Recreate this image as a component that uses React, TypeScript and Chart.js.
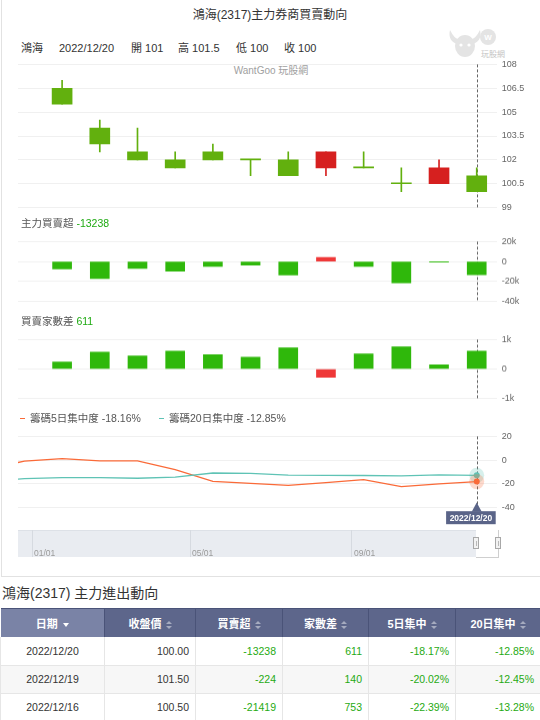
import React, { useEffect, useRef } from 'react';
import { Chart, registerables } from 'chart.js';

Chart.register(...registerables);

const FONT = '"Liberation Sans", "Noto Sans CJK TC", sans-serif';

// ---------- data ----------
const DATES = ['2022/12/05', '2022/12/06', '2022/12/07', '2022/12/08', '2022/12/09', '2022/12/12', '2022/12/13', '2022/12/14', '2022/12/15', '2022/12/16', '2022/12/19', '2022/12/20'];
const OPEN = [106.5, 104, 102.5, 102, 102.5, 102, 102, 101.5, 101.5, 100.5, 100.5, 101];
const HIGH = [107, 104.5, 104, 102.5, 103, 102, 102.5, 102.5, 102.5, 101.5, 102, 101.5];
const LOW = [105.5, 102.5, 102, 101.5, 102, 101, 101, 101, 101.5, 100, 100.5, 100];
const CLOSE = [105.5, 103, 102, 101.5, 102, 102, 101, 102.5, 101.5, 100.5, 101.5, 100];

const NET_BUY = [-7500, -16900, -7000, -9600, -4900, -3500, -13400, 4200, -4900, -21419, -224, -13238];
const BROKER_DIFF = [240, 570, 440, 610, 490, 400, 720, -280, 510, 753, 140, 611];

const CONC_DATES = ['2022/12/01', '2022/12/02', ...DATES];
const CONC5 = [-8, -0.8, 1.3, -0.7, -0.7, -8, -17.9, -19.6, -21.4, -19, -16.5, -22.39, -20.02, -18.16];
const CONC20 = [-18.4, -15.6, -14.8, -14.8, -15.3, -14.3, -10.9, -11.2, -12.7, -12.9, -13.0, -13.28, -12.45, -12.85];

const PRICE_TICKS = [99, 100.5, 102, 103.5, 105, 106.5, 108];
const PRICE_TICK_LABELS = ['99', '100.5', '102', '103.5', '105', '106.5', '108'];
const NET_TICKS = [-40000, -20000, 0, 20000];
const NET_TICK_LABELS = ['-40k', '-20k', '0', '20k'];
const DIFF_TICKS = [-1000, 0, 1000];
const DIFF_TICK_LABELS = ['-1k', '0', '1k'];
const CONC_TICKS = [-40, -20, 0, 20];
const CONC_TICK_LABELS = ['-40', '-20', '0', '20'];

const NAV_LABELS = ['01/01', '05/01', '09/01'];

const TABLE_HEADERS = ['日期', '收盤價', '買賣超', '家數差', '5日集中', '20日集中'];
const TABLE_DATES = ['2022/12/20', '2022/12/19', '2022/12/16'];
const TABLE_CLOSE = ['100.00', '101.50', '100.50'];
const TABLE_NET = ['-13238', '-224', '-21419'];
const TABLE_DIFF = ['611', '140', '753'];
const TABLE_C5 = ['-18.17%', '-20.02%', '-22.39%'];
const TABLE_C20 = ['-12.85%', '-12.45%', '-13.28%'];

// ---------- styles ----------
const UP_CANDLE = '#d6201f';
const DOWN_CANDLE = '#62b00e';
const RED_BAR = '#ef3838';
const GREEN_BAR = '#2fb80b';
const ORANGE = '#fa6a38';
const TEAL = '#5fc3b5';
const GREEN_TEXT = '#1faa12';

const LAST = DATES.length - 1;
const X_SCALE: any = { type: 'linear', min: -1.17, max: 11.53, display: false, offset: false };
const PAD = { left: 18, right: 0, top: 6, bottom: 6 };

function yAxis(ticks: number[], labels: string[]) {
  return {
    position: 'right',
    min: ticks[0],
    max: ticks[ticks.length - 1],
    afterBuildTicks: (s: any) => {
      s.ticks = ticks.map((v) => ({ value: v }));
    },
    afterFit: (s: any) => {
      s.width = 43.3;
    },
    grid: { color: '#f0f0f0', drawTicks: false, lineWidth: 1 },
    border: { display: false },
    ticks: {
      padding: 5,
      color: '#666',
      font: { size: 9, family: FONT },
      callback: (_v: any, i: number) => labels[i],
    },
  };
}

const crosshair = {
  id: 'crosshair',
  beforeDatasetsDraw(chart: any) {
    const x = chart.scales.x.getPixelForValue(LAST);
    const { top, bottom } = chart.chartArea;
    const ctx = chart.ctx;
    ctx.save();
    ctx.strokeStyle = '#666';
    ctx.lineWidth = 1;
    ctx.setLineDash([3, 2]);
    ctx.beginPath();
    ctx.moveTo(Math.round(x) + 0.5, top);
    ctx.lineTo(Math.round(x) + 0.5, bottom);
    ctx.stroke();
    ctx.restore();
  },
};

const hoverMarks = {
  id: 'hoverMarks',
  afterDatasetsDraw(chart: any) {
    const ctx = chart.ctx;
    chart.data.datasets.forEach((ds: any, di: number) => {
      const meta = chart.getDatasetMeta(di);
      const el = meta.data[meta.data.length - 1];
      if (!el) return;
      ctx.save();
      ctx.globalAlpha = 0.25;
      ctx.fillStyle = ds.borderColor;
      ctx.beginPath();
      ctx.arc(el.x, el.y, 7.5, 0, Math.PI * 2);
      ctx.fill();
      ctx.globalAlpha = 1;
      ctx.beginPath();
      ctx.arc(el.x, el.y, 3, 0, Math.PI * 2);
      ctx.fill();
      ctx.restore();
    });
  },
  afterDraw(chart: any) {
    const x = chart.scales.x.getPixelForValue(LAST);
    const { bottom, right } = chart.chartArea;
    const ctx = chart.ctx;
    const w = 49.6;
    const h = 13;
    const cx = Math.min(x, right - w / 2 - 1);
    const boxTop = bottom + 3.7;
    ctx.save();
    ctx.fillStyle = '#5a6488';
    ctx.beginPath();
    ctx.moveTo(x, bottom - 5);
    ctx.lineTo(x + 5, boxTop + 0.5);
    ctx.lineTo(x - 5, boxTop + 0.5);
    ctx.closePath();
    ctx.fill();
    ctx.fillRect(cx - w / 2, boxTop, w, h);
    ctx.fillStyle = '#fff';
    ctx.font = 'bold 8.5px ' + FONT;
    ctx.textAlign = 'center';
    ctx.textBaseline = 'middle';
    ctx.fillText(CONC_DATES[CONC_DATES.length - 1], cx, boxTop + h / 2 + 0.5);
    ctx.restore();
  },
};

const BASE_OPTIONS: any = {
  animation: false,
  responsive: false,
  events: [],
  plugins: { legend: { display: false }, tooltip: { enabled: false } },
};

function priceConfig(): any {
  const colors = DATES.map((_, i) => (CLOSE[i] > OPEN[i] ? UP_CANDLE : DOWN_CANDLE));
  return {
    type: 'bar',
    data: {
      datasets: [
        {
          data: DATES.map((_, i) => ({ x: i, y: [OPEN[i], CLOSE[i]] })),
          backgroundColor: colors,
          barThickness: 20,
          minBarLength: 1,
          grouped: false,
        },
        {
          data: DATES.map((_, i) => ({ x: i, y: [LOW[i], HIGH[i]] })),
          backgroundColor: colors,
          barThickness: 1,
          grouped: false,
        },
      ],
    },
    options: {
      ...BASE_OPTIONS,
      layout: { padding: PAD },
      scales: { x: X_SCALE, y: yAxis(PRICE_TICKS, PRICE_TICK_LABELS) },
    },
    plugins: [crosshair],
  };
}

function barConfig(values: number[], ticks: number[], labels: string[], posColor: string, negColor: string): any {
  return {
    type: 'bar',
    data: {
      datasets: [
        {
          data: values.map((v, i) => ({ x: i, y: v })),
          backgroundColor: values.map((v) => (v >= 0 ? posColor : negColor)),
          barThickness: 19,
        },
      ],
    },
    options: {
      ...BASE_OPTIONS,
      layout: { padding: PAD },
      scales: { x: X_SCALE, y: yAxis(ticks, labels) },
    },
    plugins: [crosshair],
  };
}

function concConfig(): any {
  const mk = (vals: number[], color: string) => ({
    data: vals.map((v, i) => ({ x: i - 2, y: v })),
    borderColor: color,
    backgroundColor: color,
    borderWidth: 1.3,
    pointRadius: 0,
    tension: 0,
    fill: false,
  });
  return {
    type: 'line',
    data: { datasets: [mk(CONC20, TEAL), mk(CONC5, ORANGE)] },
    options: {
      ...BASE_OPTIONS,
      layout: { padding: { left: 18, right: 0, top: 6, bottom: 18.5 } },
      scales: { x: X_SCALE, y: yAxis(CONC_TICKS, CONC_TICK_LABELS) },
    },
    plugins: [crosshair, hoverMarks],
  };
}

function ChartPanel({ top, height, make }: { top: number; height: number; make: () => any }) {
  const ref = useRef<HTMLCanvasElement>(null);
  useEffect(() => {
    const chart = new Chart(ref.current as HTMLCanvasElement, make());
    return () => chart.destroy();
  }, []);
  return (
    <canvas
      ref={ref}
      width={540}
      height={height}
      style={{ position: 'absolute', left: 0, top, width: 540, height }}
    />
  );
}

const abs = (left: number, top: number, extra: any = {}): any => ({
  position: 'absolute',
  left,
  top,
  whiteSpace: 'nowrap',
  ...extra,
});

function SortIcon() {
  return (
    <span style={{ display: 'inline-block', verticalAlign: 'middle', marginLeft: 4, width: 6, height: 9, position: 'relative' }}>
      <span style={{ position: 'absolute', left: 0, top: 0, width: 0, height: 0, borderLeft: '3px solid transparent', borderRight: '3px solid transparent', borderBottom: '3.5px solid rgba(255,255,255,0.45)' }} />
      <span style={{ position: 'absolute', left: 0, top: 5, width: 0, height: 0, borderLeft: '3px solid transparent', borderRight: '3px solid transparent', borderTop: '3.5px solid rgba(255,255,255,0.45)' }} />
    </span>
  );
}

function DownCaret() {
  return (
    <span style={{ display: 'inline-block', verticalAlign: 'middle', marginLeft: 5, width: 0, height: 0, borderLeft: '3.5px solid transparent', borderRight: '3.5px solid transparent', borderTop: '4px solid #fff' }} />
  );
}

function Logo() {
  return (
    <svg width={70} height={36} viewBox="0 0 70 36" style={{ position: 'absolute', left: 446, top: 26 }}>
      <g fill="#e4e4e4">
        <path d="M4 4 C2 12 6 17 12 18 L14 14 C10 13 7 10 4 4 Z" />
        <path d="M34 4 C36 12 32 17 26 18 L24 14 C28 13 31 10 34 4 Z" />
        <ellipse cx="19" cy="20" rx="10" ry="11" />
        <circle cx="42" cy="11" r="8" />
      </g>
      <circle cx="15" cy="19" r="1.6" fill="#fff" />
      <circle cx="23" cy="19" r="1.6" fill="#fff" />
      <text x="42" y="14" fontSize="8" fontWeight="bold" textAnchor="middle" fill="#fff" fontFamily="Liberation Sans">W</text>
      <text x="35" y="31" fontSize="8" fill="#c4c4c4" fontFamily='"Noto Sans CJK TC"'>玩股網</text>
    </svg>
  );
}

const COL_W = [104, 91, 87, 86, 87, 85];

function DataTable() {
  const cellBase: any = {
    height: 28,
    padding: '0 6px',
    fontSize: 10.5,
    color: '#333',
    borderBottom: '1px solid #e6e6e6',
    borderRight: '1px solid #e6e6e6',
    boxSizing: 'border-box',
  };
  const rows = TABLE_DATES.map((d, i) => [d, TABLE_CLOSE[i], TABLE_NET[i], TABLE_DIFF[i], TABLE_C5[i], TABLE_C20[i]]);
  return (
    <table style={{ position: 'absolute', left: 0, top: 608, width: 540, borderCollapse: 'collapse', tableLayout: 'fixed', fontFamily: FONT }}>
      <colgroup>
        {COL_W.map((w, i) => (
          <col key={i} style={{ width: w }} />
        ))}
      </colgroup>
      <thead>
        <tr>
          {TABLE_HEADERS.map((h, i) => (
            <th
              key={h}
              style={{
                height: 28,
                padding: 0,
                background: i === 0 ? '#7a83a6' : '#5d668b',
                color: '#fff',
                fontSize: 11,
                fontWeight: 'bold',
                textAlign: 'center',
                borderRight: '1px solid #4a5378',
                borderTop: '1px solid #4a5378',
              }}
            >
              {h}
              {i === 0 ? <DownCaret /> : <SortIcon />}
            </th>
          ))}
        </tr>
      </thead>
      <tbody>
        {rows.map((r, ri) => (
          <tr key={ri} style={{ background: ri === 1 ? '#f7f7f7' : '#fff' }}>
            {r.map((c, ci) => (
              <td
                key={ci}
                style={{
                  ...cellBase,
                  textAlign: ci === 0 ? 'center' : 'right',
                  color: ci >= 2 ? GREEN_TEXT : '#333',
                  borderLeft: ci === 0 ? '1px solid #e6e6e6' : undefined,
                }}
              >
                {c}
              </td>
            ))}
          </tr>
        ))}
      </tbody>
    </table>
  );
}

export default function App() {
  const lastI = LAST;
  const lastC = CONC5.length - 1;
  const info = [
    { x: 21, t: '鴻海' },
    { x: 59, t: DATES[lastI] },
    { x: 131, t: '開 ' + OPEN[lastI] },
    { x: 178, t: '高 ' + HIGH[lastI] },
    { x: 236, t: '低 ' + LOW[lastI] },
    { x: 284, t: '收 ' + CLOSE[lastI] },
  ];
  return (
    <div style={{ position: 'absolute', left: 0, top: 0, width: 540, height: 720, overflow: 'hidden', background: '#fff', fontFamily: FONT, color: '#333' }}>
      {/* chart frame */}
      <div style={{ position: 'absolute', left: 1, top: -1, width: 545, height: 578, borderLeft: '1px solid #e2e2e2', borderBottom: '1px solid #e2e2e2', boxSizing: 'border-box' }} />

      <div style={abs(0, 7, { width: 540, textAlign: 'center', fontSize: 12, lineHeight: '16px', color: '#333' })}>鴻海(2317)主力券商買賣動向</div>
      {info.map((it) => (
        <div key={it.x} style={abs(it.x, 40, { fontSize: 11, lineHeight: '16px', color: '#333' })}>
          {it.t}
        </div>
      ))}
      <Logo />

      <div style={abs(0, 64, { width: 542, textAlign: 'center', fontSize: 10, lineHeight: '14px', color: '#a0a0a0' })}>WantGoo 玩股網</div>

      <ChartPanel top={54} height={164} make={priceConfig} />

      <div style={abs(21, 215, { fontSize: 10.5, lineHeight: '16px', color: '#555' })}>
        主力買賣超 <span style={{ color: GREEN_TEXT }}>{NET_BUY[lastI]}</span>
      </div>
      <ChartPanel top={231.3} height={80.7} make={() => barConfig(NET_BUY, NET_TICKS, NET_TICK_LABELS, RED_BAR, GREEN_BAR)} />

      <div style={abs(21, 313, { fontSize: 10.5, lineHeight: '16px', color: '#555' })}>
        買賣家數差 <span style={{ color: GREEN_TEXT }}>{BROKER_DIFF[lastI]}</span>
      </div>
      <ChartPanel top={329} height={79.7} make={() => barConfig(BROKER_DIFF, DIFF_TICKS, DIFF_TICK_LABELS, GREEN_BAR, RED_BAR)} />

      <div style={abs(20, 409.5, { fontSize: 10.5, lineHeight: '16px', color: '#555' })}>
        <span style={{ display: 'inline-block', width: 5, height: 1.3, background: ORANGE, verticalAlign: 'middle', marginRight: 5 }} />
        籌碼5日集中度 {CONC5[lastC].toFixed(2)}%
      </div>
      <div style={abs(159, 409.5, { fontSize: 10.5, lineHeight: '16px', color: '#555' })}>
        <span style={{ display: 'inline-block', width: 5, height: 1.3, background: TEAL, verticalAlign: 'middle', marginRight: 5 }} />
        籌碼20日集中度 {CONC20[lastC].toFixed(2)}%
      </div>
      <ChartPanel top={426} height={100} make={concConfig} />

      {/* navigator */}
      <div style={abs(18, 530, { width: 458, height: 27, background: '#e9ecf1', borderTop: '1px solid #dde1e7', boxSizing: 'border-box' })} />
      {[31.5, 189.5, 350.5].map((x) => (
        <div key={x} style={abs(x, 530, { width: 1, height: 27, background: '#d6dae0' })} />
      ))}
      {NAV_LABELS.map((t, i) => (
        <div key={t} style={abs([34, 192, 354][i], 547, { fontSize: 8.5, lineHeight: '12px', color: '#9a9a9a' })}>
          {t}
        </div>
      ))}
      <div style={abs(476, 530, { width: 22.5, height: 27.5, borderRight: '1px solid #cfcfcf', borderBottom: '1px solid #cfcfcf', boxSizing: 'border-box' })} />
      {[473, 495].map((x) => (
        <div key={x} style={abs(x, 537, { width: 6, height: 12, background: '#f2f2f2', border: '1px solid #a8a8a8', boxSizing: 'border-box' })}>
          <div style={{ position: 'absolute', left: 1.5, top: 2.5, width: 1, height: 5, background: '#b8b8b8' }} />
        </div>
      ))}

      {/* table */}
      <div style={abs(2, 584, { fontSize: 14, lineHeight: '18px', color: '#333' })}>鴻海(2317) 主力進出動向</div>
      <DataTable />
    </div>
  );
}
